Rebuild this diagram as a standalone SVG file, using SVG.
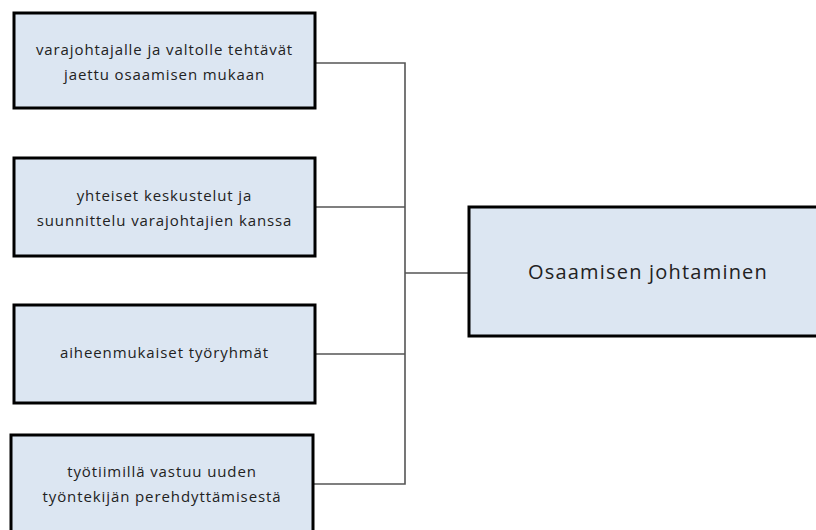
<svg xmlns="http://www.w3.org/2000/svg" width="816" height="530" viewBox="0 0 816 530">
  <style>
    .box { fill: #dce6f2; stroke: #000; stroke-width: 3; }
    .lbl { font-family: "Open Sans", "Liberation Sans", sans-serif; font-size: 15px; letter-spacing: 0.9px; fill: #222; text-anchor: middle; }
    .big { font-size: 20px; letter-spacing: 1.2px; }
    .wire { fill: none; stroke: #555; stroke-width: 1.6; }
  </style>
  <rect width="816" height="530" fill="#fff"/>

  <g id="connectors">
    <polyline class="wire" points="315,63 405,63 405,484 313,484"/>
    <line class="wire" x1="315" y1="207" x2="405" y2="207"/>
    <line class="wire" x1="315" y1="354" x2="405" y2="354"/>
    <line class="wire" x1="405" y1="273" x2="469" y2="273"/>
  </g>

  <g id="node-tehtavat">
    <rect class="box" x="14" y="13" width="301" height="95"/>
    <text class="lbl" x="164.5" y="55">varajohtajalle ja valtolle tehtävät</text>
    <text class="lbl" x="164.5" y="80">jaettu osaamisen mukaan</text>
  </g>

  <g id="node-keskustelut">
    <rect class="box" x="14" y="158" width="301" height="98"/>
    <text class="lbl" x="164.5" y="201">yhteiset keskustelut ja</text>
    <text class="lbl" x="164.5" y="226">suunnittelu varajohtajien kanssa</text>
  </g>

  <g id="node-tyoryhmat">
    <rect class="box" x="14" y="305" width="301" height="98"/>
    <text class="lbl" x="164.5" y="358">aiheenmukaiset työryhmät</text>
  </g>

  <g id="node-perehdytys">
    <rect class="box" x="11" y="435" width="302" height="110"/>
    <text class="lbl" x="162" y="477">työtiimillä vastuu uuden</text>
    <text class="lbl" x="162" y="502">työntekijän perehdyttämisestä</text>
  </g>

  <g id="node-osaamisen-johtaminen">
    <rect class="box" x="469" y="207" width="360" height="129"/>
    <text class="lbl big" x="648" y="279">Osaamisen johtaminen</text>
  </g>
</svg>
